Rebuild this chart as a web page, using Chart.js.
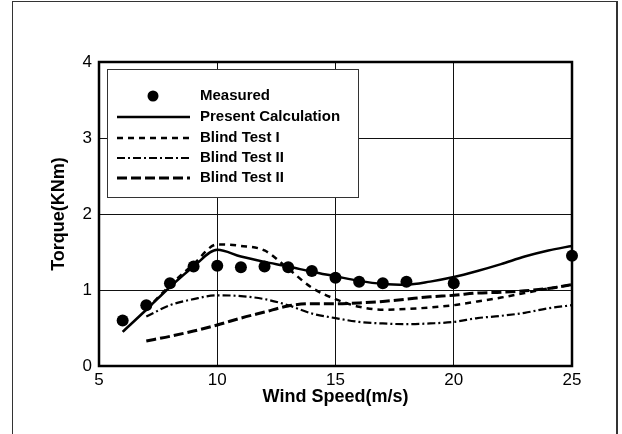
<!DOCTYPE html>
<html>
<head>
<meta charset="utf-8">
<script src="https://cdn.jsdelivr.net/npm/chart.js@4/dist/chart.umd.min.js"></script>
<style>
    html, body { margin: 0; padding: 0; background: #fff; }
    #wrap { position: relative; width: 622px; height: 434px; overflow: hidden; }
    #frame {
        position: absolute; left: 12px; top: 1px; width: 603px; height: 460px;
        border-left: 1px solid #333; border-top: 1px solid #333; border-right: 2px solid #333;
    }
    canvas { position: absolute; left: 0; top: 0; }
</style>
</head>
<body>
<div id="wrap">
    <div id="frame"></div>
    <canvas id="torqueChart" width="622" height="434"></canvas>
</div>
<script>
// --- Data ---
const measuredSpeed = [6, 7, 8, 9, 10, 11, 12, 13, 14, 15, 16, 17, 18, 20, 25];
const measuredTorque = [0.60, 0.80, 1.09, 1.31, 1.32, 1.30, 1.31, 1.30, 1.25, 1.16, 1.11, 1.09, 1.11, 1.09, 1.45];

const calcSpeed = [6, 7, 8, 9, 10, 11, 12, 13, 14, 15, 16, 17, 18, 19, 20, 21, 22, 23, 24, 25];
const calcTorque = [0.45, 0.74, 1.04, 1.31, 1.53, 1.44, 1.37, 1.31, 1.24, 1.18, 1.12, 1.08, 1.07, 1.11, 1.17, 1.25, 1.34, 1.44, 1.52, 1.58];

const blindSpeed = [7, 8, 9, 10, 11, 12, 13, 14, 15, 16, 17, 18, 19, 20, 21, 22, 23, 24, 25];
const blindTest1 = [0.74, 1.06, 1.34, 1.60, 1.58, 1.52, 1.28, 1.03, 0.88, 0.78, 0.74, 0.75, 0.77, 0.80, 0.85, 0.90, 0.96, 1.02, 1.07];
const blindTest2 = [0.65, 0.80, 0.88, 0.93, 0.92, 0.88, 0.80, 0.69, 0.63, 0.58, 0.56, 0.55, 0.56, 0.58, 0.63, 0.66, 0.70, 0.76, 0.80];
const blindTest3 = [0.33, 0.39, 0.46, 0.54, 0.63, 0.71, 0.79, 0.82, 0.82, 0.83, 0.85, 0.88, 0.91, 0.93, 0.96, 0.97, 0.99, 1.02, 1.07];

const seriesNames = ['Measured', 'Present Calculation', 'Blind Test I', 'Blind Test II', 'Blind Test II'];
const xTicks = [5, 10, 15, 20, 25];
const yTicks = [0, 1, 2, 3, 4];

const FONT = '"Liberation Sans", Arial, sans-serif';

function toPoints(xs, ys) {
    return xs.map((x, i) => ({ x: x, y: ys[i] }));
}

// frame around the plot area
const plotFrame = {
    id: 'plotFrame',
    beforeDatasetsDraw(chart) {
        const { ctx, chartArea: a } = chart;
        ctx.save();
        ctx.strokeStyle = '#000';
        ctx.lineWidth = 2.5;
        ctx.strokeRect(a.left, a.top, a.right - a.left, a.bottom - a.top);
        ctx.restore();
    }
};

// boxed legend inside the plot, top-left
const boxLegend = {
    id: 'boxLegend',
    afterDraw(chart) {
        const ctx = chart.ctx;
        const box = { x: 107, y: 69, w: 251, h: 128 };
        ctx.save();
        ctx.fillStyle = '#fff';
        ctx.fillRect(box.x, box.y, box.w, box.h);
        ctx.strokeStyle = '#333';
        ctx.lineWidth = 1;
        ctx.strokeRect(box.x + 0.5, box.y + 0.5, box.w, box.h);

        const rowY = [96, 117, 138, 158, 178];
        chart.data.datasets.forEach((ds, i) => {
            const y = rowY[i];
            ctx.strokeStyle = '#000';
            ctx.fillStyle = '#000';
            if (ds.showLine === false) {
                ctx.beginPath();
                ctx.arc(153, y, 5.5, 0, Math.PI * 2);
                ctx.fill();
            } else {
                ctx.lineWidth = ds.borderWidth;
                ctx.setLineDash(ds.borderDash || []);
                ctx.beginPath();
                ctx.moveTo(117, y);
                ctx.lineTo(190, y);
                ctx.stroke();
                ctx.setLineDash([]);
            }
            ctx.font = 'bold 15px ' + FONT;
            ctx.textBaseline = 'middle';
            ctx.textAlign = 'left';
            ctx.fillText(seriesNames[i], 200, y);
        });
        ctx.restore();
    }
};

const lineStyle = {
    borderColor: '#000',
    backgroundColor: '#000',
    pointRadius: 0,
    fill: false,
    cubicInterpolationMode: 'monotone'
};

new Chart(document.getElementById('torqueChart'), {
    type: 'scatter',
    data: {
        datasets: [
            {
                label: seriesNames[0],
                data: toPoints(measuredSpeed, measuredTorque),
                showLine: false,
                clip: false,
                pointRadius: 6,
                pointBackgroundColor: '#000',
                pointBorderColor: '#000',
                pointBorderWidth: 0
            },
            Object.assign({}, lineStyle, {
                label: seriesNames[1],
                data: toPoints(calcSpeed, calcTorque),
                showLine: true,
                borderWidth: 2.5
            }),
            Object.assign({}, lineStyle, {
                label: seriesNames[2],
                data: toPoints(blindSpeed, blindTest1),
                showLine: true,
                borderWidth: 2.5,
                borderDash: [6, 5]
            }),
            Object.assign({}, lineStyle, {
                label: seriesNames[3],
                data: toPoints(blindSpeed, blindTest2),
                showLine: true,
                borderWidth: 2.2,
                borderDash: [8, 3, 2, 3]
            }),
            Object.assign({}, lineStyle, {
                label: seriesNames[4],
                data: toPoints(blindSpeed, blindTest3),
                showLine: true,
                borderWidth: 3,
                borderDash: [10, 4]
            })
        ]
    },
    options: {
        responsive: false,
        animation: false,
        devicePixelRatio: 1,
        layout: { padding: { left: 0, right: 50, top: 62, bottom: 0 } },
        plugins: {
            legend: { display: false },
            tooltip: { enabled: false }
        },
        scales: {
            x: {
                type: 'linear',
                min: 5,
                max: 25,
                afterFit(scale) { scale.height = 68; },
                afterBuildTicks(scale) { scale.ticks = xTicks.map(v => ({ value: v })); },
                ticks: {
                    color: '#000',
                    padding: 4,
                    font: { family: FONT, size: 17 }
                },
                grid: { color: '#111', lineWidth: 1, drawTicks: false },
                border: { display: false },
                title: {
                    display: true,
                    text: 'Wind Speed(m/s)',
                    color: '#000',
                    font: { family: FONT, size: 18, weight: 'bold' },
                    padding: { top: 0, bottom: 26 }
                }
            },
            y: {
                min: 0,
                max: 4,
                afterFit(scale) { scale.width = 99; },
                afterBuildTicks(scale) { scale.ticks = yTicks.map(v => ({ value: v })); },
                ticks: {
                    color: '#000',
                    padding: 7,
                    font: { family: FONT, size: 17 }
                },
                grid: { color: '#111', lineWidth: 1, drawTicks: false },
                border: { display: false },
                title: {
                    display: true,
                    text: 'Torque(KNm)',
                    color: '#000',
                    font: { family: FONT, size: 18, weight: 'bold' },
                    padding: { top: 48, bottom: 0 }
                }
            }
        }
    },
    plugins: [plotFrame, boxLegend]
});
</script>
</body>
</html>
